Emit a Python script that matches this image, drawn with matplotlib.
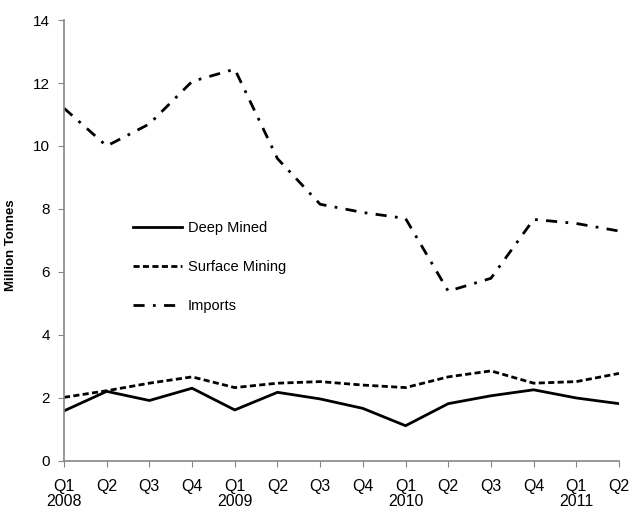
import numpy as np
import matplotlib
matplotlib.use('Agg')
import matplotlib.pyplot as plt

plt.rcParams['font.family'] = ['Liberation Sans', 'DejaVu Sans']

quarters = ['Q1', 'Q2', 'Q3', 'Q4', 'Q1', 'Q2', 'Q3', 'Q4', 'Q1', 'Q2', 'Q3', 'Q4', 'Q1', 'Q2']
years = ['2008', '', '', '', '2009', '', '', '', '2010', '', '', '', '2011', '']

deep_mined = [1.59, 2.21, 1.92, 2.31, 1.62, 2.18, 1.97, 1.67, 1.12, 1.82, 2.07, 2.26, 2.0, 1.82]
surface_mining = [2.02, 2.23, 2.47, 2.67, 2.33, 2.47, 2.52, 2.41, 2.33, 2.67, 2.86, 2.47, 2.52, 2.78]
imports = [11.2, 10.0, 10.7, 12.05, 12.44, 9.6, 8.15, 7.89, 7.7, 5.39, 5.8, 7.67, 7.54, 7.3]

labels = [q + '\n' + y for q, y in zip(quarters, years)]
x = np.arange(len(quarters))

fig = plt.figure(figsize=(6.31, 5.13), dpi=100)
ax = fig.add_axes([0.1014, 0.1014, 0.8796, 0.8596])

ax.plot(x, deep_mined, color='black', lw=2.0, label='Deep Mined')
ax.plot(x, surface_mining, color='black', lw=2.0, dashes=(2.2, 1.2), label='Surface Mining')
ax.plot(x, imports, color='black', lw=2.0, dashes=(4, 3, 1, 3), label='Imports')

ax.set_xlim(0, len(x) - 1)
ax.set_ylim(0, 14)
ax.set_yticks(range(0, 15, 2))
ax.set_xticks(x)
ax.set_xticklabels(labels, fontsize=11.5, linespacing=1.02)
ax.tick_params(axis='y', labelsize=11, direction='out', length=4, color='#868686', pad=6)
ax.tick_params(axis='x', direction='out', length=4, color='#868686', pad=9)

for s in ['top', 'right']:
    ax.spines[s].set_visible(False)
for s in ['left', 'bottom']:
    ax.spines[s].set_color('#868686')
    ax.spines[s].set_linewidth(1.2)

ax.set_ylabel('Million Tonnes', fontsize=9.5, fontweight='bold')
ax.yaxis.set_label_coords(-0.085, 0.49)

ax.legend(loc='upper left', bbox_to_anchor=(0.1, 0.574), frameon=False, fontsize=10.5,
          handlelength=3.4, handletextpad=0.4, labelspacing=1.72)

fig.savefig('out.png', dpi=100)
